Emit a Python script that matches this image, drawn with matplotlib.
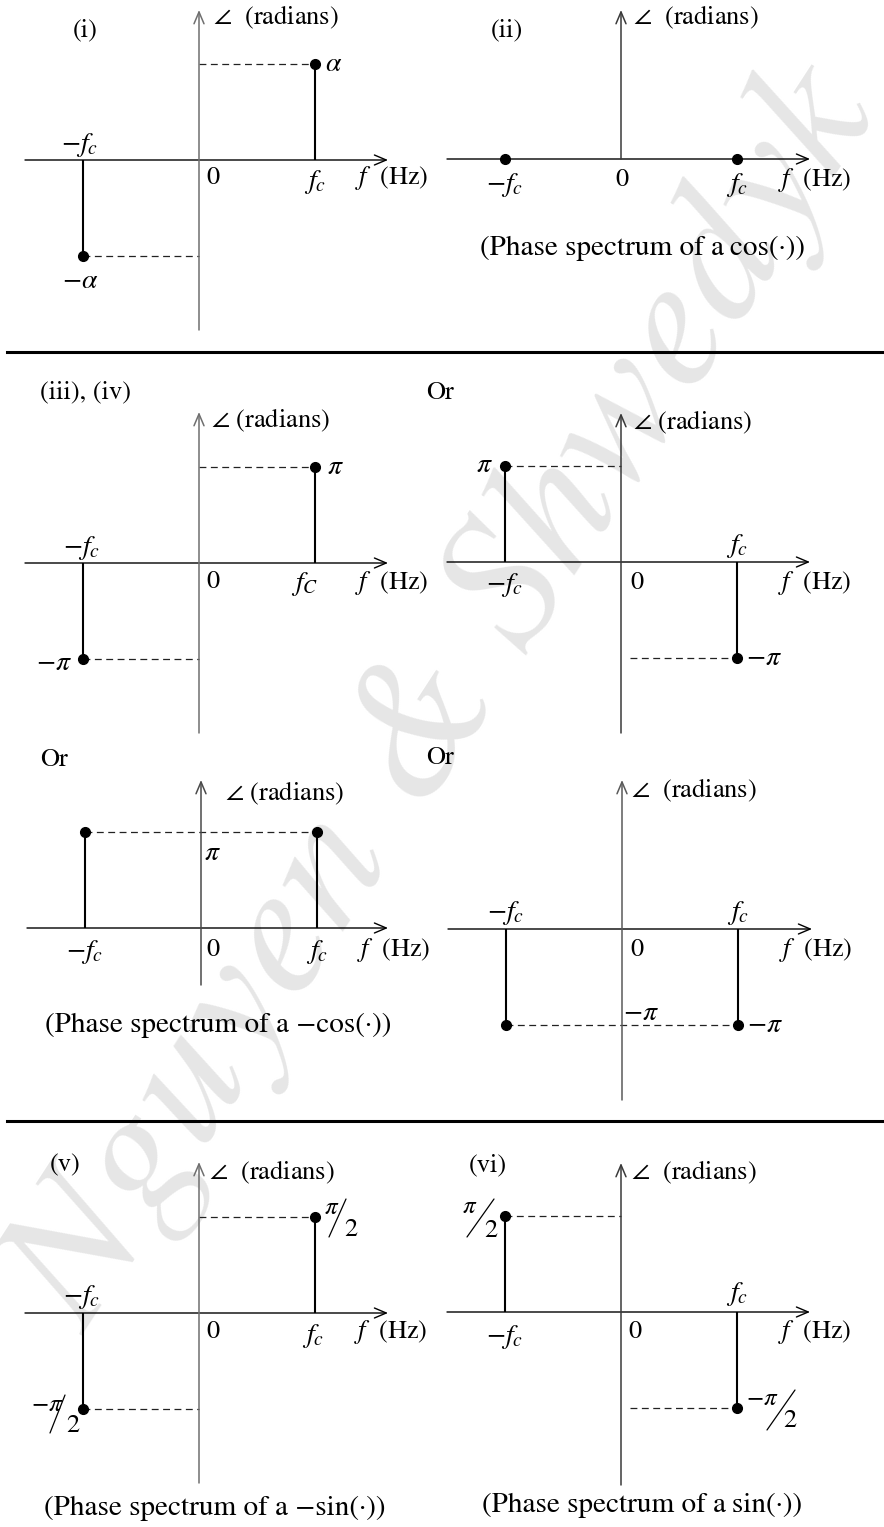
import numpy as np
import matplotlib
matplotlib.use("Agg")
import matplotlib.pyplot as plt
from matplotlib.lines import Line2D
from matplotlib.transforms import offset_copy

plt.rcParams["font.family"] = ["STIXGeneral", "DejaVu Serif"]
plt.rcParams["mathtext.fontset"] = "stix"

W, H, DPI = 884, 1527, 100

# ---------------------------------------------------------------- data
# spectral lines sit at -f_c and +f_c (frequency in units of f_c)
FREQS = [-1.0, 1.0]
ALPHA = 1.0                       # generic phase offset alpha (rad)

PHASE_I = [-ALPHA, ALPHA]                 # a cos(.) with phase alpha
PHASE_II = [0.0, 0.0]                     # a cos(.)
PHASE_III = [-np.pi, np.pi]               # -a cos(.)
PHASE_III_OR1 = [np.pi, -np.pi]
PHASE_III_OR2 = [np.pi, np.pi]
PHASE_III_OR3 = [-np.pi, -np.pi]
PHASE_V = [-np.pi / 2, np.pi / 2]         # -a sin(.)
PHASE_VI = [np.pi / 2, -np.pi / 2]        # a sin(.)

FREQ_LABELS = [r"$-f_c$", r"$f_c$"]

PX_PER_FC = 116.0     # horizontal scale
PX_PER_PEAK = 96.0    # vertical scale for the largest phase of a panel

LABEL_FS = 19
MATH_FS = 20
CAPTION_FS = 21

fig = plt.figure(figsize=(W / DPI, H / DPI), dpi=DPI)


def fx(x):
    return x / W


def fy(y):
    return 1 - y / H


def make_panel(origin, xspan, yspan, peak, vaxis_from_zero=False,
               vcolor="#6f6f6f"):
    ox, oy = origin
    xl, xr = xspan
    yt, yb = yspan
    ax = fig.add_axes([fx(xl), fy(yb), (xr - xl) / W, (yb - yt) / H])
    ax.set_facecolor("none")
    ax.axis("off")
    k = peak / PX_PER_PEAK
    ax.set_xlim((xl - ox) / PX_PER_FC, (xr - ox) / PX_PER_FC)
    ax.set_ylim((oy - yb) * k, (oy - yt) * k)
    x0, x1 = ax.get_xlim()
    y0, y1 = ax.get_ylim()
    head = "->,head_length=0.85,head_width=0.36"
    ax.annotate("", xy=(x1, 0), xytext=(x0, 0),
                arrowprops=dict(arrowstyle=head, lw=1.0, color="black",
                                shrinkA=0, shrinkB=0, mutation_scale=10),
                annotation_clip=False)
    ax.annotate("", xy=(0, y1), xytext=(0, 0 if vaxis_from_zero else y0),
                arrowprops=dict(arrowstyle=head, lw=1.1, color=vcolor,
                                shrinkA=0, shrinkB=0, mutation_scale=10),
                annotation_clip=False)
    return ax


def lab(ax, text, xy, off, ha="center", va="center", fs=LABEL_FS, **kw):
    ax.annotate(text, xy=xy, xytext=off, textcoords="offset pixels",
                ha=ha, va=va, fontsize=fs, annotation_clip=False, **kw)


def stems(ax, phases, with_stems=True):
    if with_stems:
        ax.vlines(FREQS, 0, phases, color="black", lw=1.5)
    ax.plot(FREQS, phases, "o", ms=7, color="black", clip_on=False)


def dashed(ax, y, xa, xb):
    ax.hlines(y, xa, xb, color="#222222", lw=0.9, linestyles=(0, (5.5, 3.6)))


def axis_texts(ax, angle_off, angle_txt, zero_off, fhz_off):
    lab(ax, angle_txt, (0, 0), angle_off, ha="left")
    lab(ax, "0", (0, 0), zero_off)
    lab(ax, r"$f$  (Hz)", (0, 0), fhz_off, ha="left")


def slash_frac(ax, xy, neg, pi_off, sl_a, sl_b, two_off):
    """pi/2 written with a long slanted bar, placed around a marker."""
    lab(ax, (r"$-\pi$" if neg else r"$\pi$"), xy, pi_off, fs=18)
    lab(ax, "2", xy, two_off, fs=19)
    base = offset_copy(ax.transData, fig=fig, x=sl_a[0], y=sl_a[1],
                       units="dots")
    ax.annotate("", xy=xy, xycoords=base,
                xytext=(sl_b[0] - sl_a[0], sl_b[1] - sl_a[1]),
                textcoords="offset pixels", annotation_clip=False,
                arrowprops=dict(arrowstyle="-", lw=0.9, color="black",
                                shrinkA=0, shrinkB=0))


# ---------------------------------------------------------------- (i)
ax = make_panel((199, 160), (25, 388), (10, 330), ALPHA)
dashed(ax, PHASE_I[1], 0, FREQS[1])
dashed(ax, PHASE_I[0], FREQS[0], 0)
stems(ax, PHASE_I)
axis_texts(ax, (14, 143), r"$\angle$  (radians)", (14, -18), (156, -18))
lab(ax, FREQ_LABELS[0], (FREQS[0], 0), (-3, 15), fs=MATH_FS)
lab(ax, FREQ_LABELS[1], (FREQS[1], 0), (0, -22), fs=MATH_FS)
lab(ax, r"$\alpha$", (FREQS[1], PHASE_I[1]), (19, 0), fs=MATH_FS)
lab(ax, r"$-\alpha$", (FREQS[0], PHASE_I[0]), (-3, -25), fs=MATH_FS)
fig.text(fx(85), fy(30), "(i)", ha="center", va="center", fontsize=LABEL_FS)

# ---------------------------------------------------------------- (ii)
ax = make_panel((621, 159), (447, 810), (10, 330), 1.0,
                vaxis_from_zero=True, vcolor="#3a3a3a")
stems(ax, PHASE_II, with_stems=False)
axis_texts(ax, (12, 142), r"$\angle$  (radians)", (1, -21), (157, -21))
lab(ax, FREQ_LABELS[0], (FREQS[0], 0), (0, -26), fs=MATH_FS)
lab(ax, FREQ_LABELS[1], (FREQS[1], 0), (0, -26), fs=MATH_FS)
fig.text(fx(507), fy(30), "(ii)", ha="center", va="center", fontsize=LABEL_FS)
fig.text(fx(642), fy(248), "(Phase spectrum of a\u2009cos(\u00b7))",
         ha="center", va="center", fontsize=CAPTION_FS)

# ---------------------------------------------------------------- (iii), (iv)
ax = make_panel((199, 563), (25, 388), (412, 733), np.pi)
dashed(ax, PHASE_III[1], 0, FREQS[1])
dashed(ax, PHASE_III[0], FREQS[0], 0)
stems(ax, PHASE_III)
axis_texts(ax, (12, 143), r"$\angle$ (radians)", (14, -19), (156, -20))
lab(ax, FREQ_LABELS[0], (FREQS[0], 0), (-1, 15), fs=MATH_FS)
lab(ax, r"$f_C$", (FREQS[1], 0), (-10, -21), fs=MATH_FS)
lab(ax, r"$\pi$", (FREQS[1], PHASE_III[1]), (20, 0), fs=MATH_FS)
lab(ax, r"$-\pi$", (FREQS[0], PHASE_III[0]), (-29, -4), fs=MATH_FS)
fig.text(fx(40), fy(392), "(iii), (iv)", ha="left", va="center",
         fontsize=LABEL_FS)

# ---------------------------------------------------------------- Or (top right)
ax = make_panel((621, 562), (447, 810), (413, 733), np.pi, vcolor="#3a3a3a")
dashed(ax, PHASE_III_OR1[0], FREQS[0], 0)
dashed(ax, PHASE_III_OR1[1], 0.08, FREQS[1])
stems(ax, PHASE_III_OR1)
axis_texts(ax, (12, 140), r"$\angle$ (radians)", (16, -21), (157, -21))
lab(ax, FREQ_LABELS[0], (FREQS[0], 0), (0, -23), fs=MATH_FS)
lab(ax, FREQ_LABELS[1], (FREQS[1], 0), (0, 16), fs=MATH_FS)
lab(ax, r"$\pi$", (FREQS[0], PHASE_III_OR1[0]), (-21, 1), fs=MATH_FS)
lab(ax, r"$-\pi$", (FREQS[1], PHASE_III_OR1[1]), (9, 0), ha="left",
    fs=MATH_FS)
fig.text(fx(426), fy(393), "Or", ha="left", va="center", fontsize=LABEL_FS)

# ---------------------------------------------------------------- Or (bottom left)
ax = make_panel((201, 928), (27, 388), (780, 985), np.pi, vcolor="#4a4a4a")
dashed(ax, PHASE_III_OR2[0], FREQS[0], FREQS[1])
stems(ax, PHASE_III_OR2)
axis_texts(ax, (24, 135), r"$\angle$ (radians)", (12, -22), (156, -22))
lab(ax, FREQ_LABELS[0], (FREQS[0], 0), (0, -24), fs=MATH_FS)
lab(ax, FREQ_LABELS[1], (FREQS[1], 0), (0, -24), fs=MATH_FS)
lab(ax, r"$\pi$", (0, PHASE_III_OR2[0]), (11, -21), fs=MATH_FS)
fig.text(fx(40), fy(760), "Or", ha="left", va="center", fontsize=LABEL_FS)
fig.text(fx(218), fy(1025), "(Phase spectrum of a \u2212cos(\u00b7))",
         ha="center", va="center", fontsize=CAPTION_FS)

# ---------------------------------------------------------------- Or (bottom right)
ax = make_panel((622, 929), (448, 812), (780, 1100), np.pi, vcolor="#5a5a5a")
dashed(ax, PHASE_III_OR3[0], FREQS[0], FREQS[1])
stems(ax, PHASE_III_OR3)
axis_texts(ax, (9, 139), r"$\angle$  (radians)", (15, -21), (157, -21))
lab(ax, FREQ_LABELS[0], (FREQS[0], 0), (0, 16), fs=MATH_FS)
lab(ax, FREQ_LABELS[1], (FREQS[1], 0), (0, 16), fs=MATH_FS)
lab(ax, r"$-\pi$", (0, PHASE_III_OR3[0]), (19, 12), fs=MATH_FS)
lab(ax, r"$-\pi$", (FREQS[1], PHASE_III_OR3[1]), (9, 0), ha="left",
    fs=MATH_FS)
fig.text(fx(426), fy(758), "Or", ha="left", va="center", fontsize=LABEL_FS)

# ---------------------------------------------------------------- (v)
ax = make_panel((199, 1313), (25, 388), (1162, 1483), np.pi / 2)
dashed(ax, PHASE_V[1], 0, FREQS[1])
dashed(ax, PHASE_V[0], FREQS[0], 0)
stems(ax, PHASE_V)
axis_texts(ax, (10, 141), r"$\angle$  (radians)", (14, -19), (155, -19))
lab(ax, FREQ_LABELS[0], (FREQS[0], 0), (-1, 16), fs=MATH_FS)
lab(ax, FREQ_LABELS[1], (FREQS[1], 0), (-2, -23), fs=MATH_FS)
slash_frac(ax, (FREQS[1], PHASE_V[1]), False, (17, 9),
           (14, -20), (31, 18), (36, -13))
slash_frac(ax, (FREQS[0], PHASE_V[0]), True, (-36, 4),
           (-33, -24), (-18, 14), (-10, -17))
fig.text(fx(65), fy(1165), "(v)", ha="center", va="center", fontsize=LABEL_FS)
fig.text(fx(215), fy(1508), "(Phase spectrum of a \u2212sin(\u00b7))",
         ha="center", va="center", fontsize=CAPTION_FS)

# ---------------------------------------------------------------- (vi)
ax = make_panel((621, 1312), (447, 810), (1163, 1485), np.pi / 2,
                vcolor="#3a3a3a")
dashed(ax, PHASE_VI[0], FREQS[0], 0)
dashed(ax, PHASE_VI[1], 0.08, FREQS[1])
stems(ax, PHASE_VI)
axis_texts(ax, (10, 140), r"$\angle$  (radians)", (14, -20), (157, -20))
lab(ax, FREQ_LABELS[0], (FREQS[0], 0), (0, -25), fs=MATH_FS)
lab(ax, FREQ_LABELS[1], (FREQS[1], 0), (0, 18), fs=MATH_FS)
slash_frac(ax, (FREQS[0], PHASE_VI[0]), False, (-35, 9),
           (-38, -21), (-11, 17), (-14, -15))
slash_frac(ax, (FREQS[1], PHASE_VI[1]), True, (25, 9),
           (30, -22), (58, 18), (53, -13))
fig.text(fx(488), fy(1165), "(vi)", ha="center", va="center",
         fontsize=LABEL_FS)
fig.text(fx(642), fy(1505), "(Phase spectrum of a\u2009sin(\u00b7))",
         ha="center", va="center", fontsize=CAPTION_FS)

# ---------------------------------------------------------------- separators
for ysep in (352, 1121):
    fig.add_artist(Line2D([fx(7), 1.0], [fy(ysep), fy(ysep)],
                          color="black", lw=2.2))

# ---------------------------------------------------------------- watermark
fig.text(fx(445), fy(700), "Nguyen & Shwedyk", rotation=57,
         rotation_mode="anchor", ha="center", va="center",
         fontsize=134, fontstyle="italic", color="#e6e6e6", zorder=-1)

fig.savefig("out.png", dpi=DPI, facecolor="white")
